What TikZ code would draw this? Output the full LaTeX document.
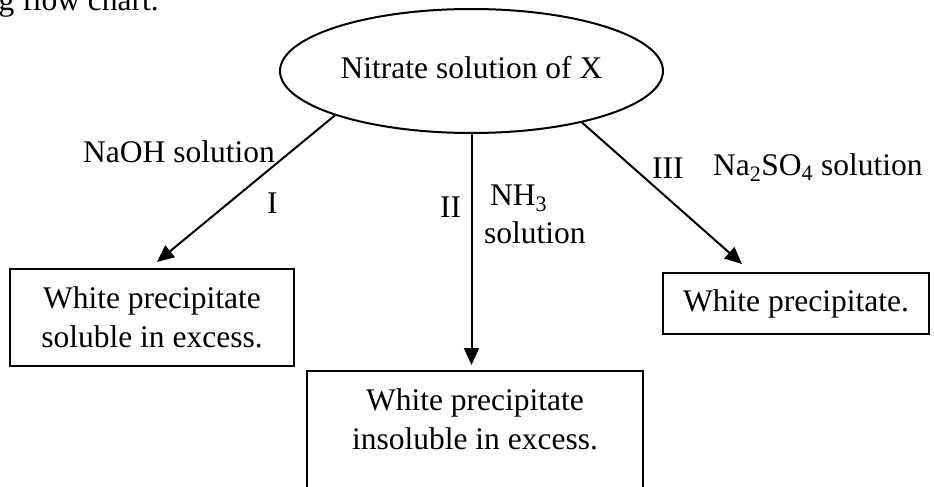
\documentclass[tikz,border=0pt]{standalone}
\usepackage{fontspec}
\setmainfont{Liberation Serif}
\usetikzlibrary{shapes.geometric,arrows.meta}
\begin{document}
\begin{tikzpicture}[x=1pt,y=-1pt,
  every node/.style={font=\fontsize{31.5}{39}\selectfont, inner sep=0pt},
  flowline/.style={line width=2pt},
  arr/.style={flowline,-{Triangle[length=17pt,width=15pt]}},
  oval/.style={draw, ellipse, line width=2pt, minimum width=383pt,
    minimum height=124pt, text depth=8pt},
  resultbox/.style={draw, rectangle, line width=2pt},
  tag/.style={anchor=base west}]
\clip (0,0) rectangle (934,487);

% tail of the sentence above the chart
\node[tag] (lead) at (-1.5,11) {g flow chart.};

% starting solution
\node[oval] (src) at (471.5,71) {Nitrate solution of X};

% results of the three tests
\node[resultbox, align=center, minimum width=284pt, minimum height=97pt]
  (lb) at (152,317.5) {White precipitate\\soluble in excess.};
\node[resultbox, minimum width=266pt, minimum height=61pt]
  (rb) at (796,303.5) {White precipitate.};
\node[resultbox, anchor=north, minimum width=336pt, inner ysep=11.7pt]
  (mb) at (475,370)
  {\begin{tabular}{@{}c@{}}White precipitate\\insoluble in excess.\\ \mbox{}\end{tabular}};

% reagent arrows
\draw[arr] (src.198.7) -- ([xshift=5pt,yshift=6pt]lb.north);
\draw[arr, shorten >=5pt] (src.south) -- (src.south |- mb.north);
\draw[arr] (src.335.4) -- ([xshift=80pt,yshift=8pt]rb.north west);

% arrow labels
\node[tag] (naoh) at (83,162) {NaOH solution};
\node[tag] (r1) at (267,213) {I};
\node[tag] (r2) at (440,217) {II};
\node[tag] (nh3) at (490,205) {NH\textsubscript{3}};
\node[tag] (nh3s) at (484,243) {solution};
\node[tag] (r3) at (652,178) {III};
\node[tag] (na2so4) at (713,175) {Na\textsubscript{2}SO\textsubscript{4} solution};
\end{tikzpicture}
\end{document}
